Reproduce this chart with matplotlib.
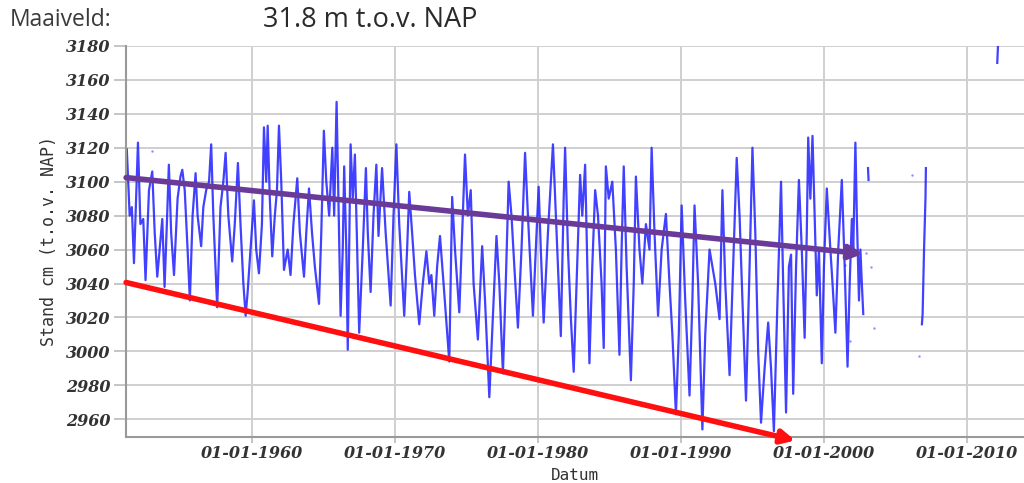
import matplotlib
matplotlib.use("Agg")
import matplotlib.pyplot as plt
import numpy as np

# grondwaterstand (cm t.o.v. NAP)
years = [
    1951.25, 1951.45, 1951.6, 1951.75, 1951.9, 1952.03, 1952.2, 1952.4, 1952.56, 1952.8,
    1953.03, 1953.2, 1953.38, 1953.6, 1953.73, 1953.89, 1954.05, 1954.19, 1954.35, 1954.55,
    1954.8, 1955.0, 1955.13, 1955.3, 1955.5, 1955.66, 1955.85, 1956.06, 1956.2, 1956.45,
    1956.6, 1956.8, 1957.0, 1957.15, 1957.3, 1957.57, 1957.8, 1958.0, 1958.16, 1958.35,
    1958.62, 1958.8, 1959.02, 1959.2, 1959.4, 1959.56, 1959.7, 1959.9, 1960.14, 1960.3,
    1960.49, 1960.7, 1960.84, 1961.0, 1961.1, 1961.25, 1961.42, 1961.6, 1961.75, 1961.89,
    1962.05, 1962.24, 1962.5, 1962.7, 1962.9, 1963.17, 1963.35, 1963.64, 1963.8, 1963.99,
    1964.2, 1964.4, 1964.69, 1964.85, 1965.03, 1965.2, 1965.4, 1965.62, 1965.75, 1965.92,
    1966.05, 1966.2, 1966.35, 1966.45, 1966.6, 1966.7, 1966.9, 1967.05, 1967.2, 1967.5,
    1967.75, 1967.97, 1968.1, 1968.3, 1968.5, 1968.7, 1968.85, 1969.1, 1969.35, 1969.7,
    1969.9, 1970.1, 1970.3, 1970.65, 1970.85, 1971.0, 1971.2, 1971.4, 1971.7, 1971.95,
    1972.2, 1972.4, 1972.55, 1972.75, 1972.95, 1973.15, 1973.4, 1973.8, 1974.0, 1974.2,
    1974.5, 1974.7, 1974.9, 1975.1, 1975.3, 1975.5, 1975.8, 1976.1, 1976.3, 1976.6,
    1976.85, 1977.1, 1977.3, 1977.55, 1977.75, 1977.95, 1978.15, 1978.35, 1978.6, 1978.85,
    1979.1, 1979.3, 1979.65, 1979.85, 1980.05, 1980.2, 1980.4, 1980.7, 1981.05, 1981.3,
    1981.6, 1981.8, 1981.9, 1982.1, 1982.3, 1982.5, 1982.7, 1982.95, 1983.1, 1983.3,
    1983.45, 1983.6, 1983.8, 1984.0, 1984.2, 1984.45, 1984.6, 1984.75, 1984.95, 1985.2,
    1985.45, 1985.7, 1985.85, 1986.0, 1986.2, 1986.5, 1986.7, 1986.85, 1987.1, 1987.3,
    1987.55, 1987.8, 1987.95, 1988.15, 1988.4, 1988.65, 1988.95, 1989.2, 1989.4, 1989.65,
    1989.85, 1990.05, 1990.3, 1990.6, 1990.8, 1990.95, 1991.2, 1991.5, 1991.7, 1992.0,
    1992.2, 1992.4, 1992.7, 1992.9, 1993.1, 1993.4, 1993.65, 1993.9, 1994.1, 1994.3,
    1994.55, 1994.8, 1995.0, 1995.2, 1995.4, 1995.6, 1995.85, 1996.1, 1996.3, 1996.5,
    1996.75, 1997.0, 1997.15, 1997.35, 1997.55, 1997.7, 1997.85, 1998.05, 1998.25, 1998.45,
    1998.65, 1998.8, 1998.9, 1999.05, 1999.2, 1999.35, 1999.5, 1999.65, 1999.85, 2000.0,
    2000.2, 2000.45, 2000.6, 2000.8, 2001.0, 2001.25, 2001.45, 2001.65, 2001.8, 2001.95,
    2002.05, 2002.2, 2002.3, 2002.45, 2002.55, 2002.65, 2002.75,
]
stand = [
    3119, 3080, 3085, 3052, 3090, 3123, 3075, 3078, 3042, 3095,
    3106, 3070, 3044, 3065, 3078, 3038, 3075, 3110, 3070, 3045,
    3090, 3103, 3107, 3095, 3060, 3030, 3080, 3105, 3080, 3062,
    3085, 3095, 3100, 3122, 3080, 3026, 3085, 3100, 3117, 3080,
    3053, 3075, 3111, 3075, 3040, 3021, 3035, 3060, 3089, 3060,
    3046, 3075, 3132, 3100, 3133, 3090, 3056, 3080, 3095, 3133,
    3100, 3048, 3060, 3045, 3075, 3102, 3070, 3044, 3070, 3096,
    3070, 3050, 3028, 3070, 3130, 3100, 3080, 3120, 3080, 3147,
    3090, 3021, 3060, 3109, 3060, 3001, 3122, 3090, 3116, 3011,
    3060, 3108, 3070, 3035, 3080, 3110, 3068, 3108, 3070, 3027,
    3080, 3122, 3075, 3021, 3060, 3094, 3070, 3045, 3016, 3040,
    3059, 3040, 3045, 3021, 3050, 3068, 3040, 2994, 3091, 3060,
    3023, 3070, 3116, 3080, 3095, 3040, 3007, 3062, 3030, 2973,
    3020, 3068, 3040, 2987, 3040, 3100, 3080, 3050, 3014, 3060,
    3117, 3080, 3021, 3060, 3097, 3060, 3017, 3070, 3122, 3070,
    3009, 3090, 3120, 3060, 3020, 2988, 3040, 3104, 3080, 3110,
    3050, 2993, 3050, 3095, 3080, 3040, 3002, 3109, 3090, 3100,
    3060, 2998, 3060, 3109, 3050, 2983, 3040, 3103, 3060, 3040,
    3075, 3060, 3120, 3070, 3021, 3060, 3081, 3040, 3010, 2963,
    3010, 3086, 3030, 2974, 3030, 3086, 3040, 2954, 3010, 3060,
    3050, 3040, 3019, 3095, 3040, 2986, 3050, 3114, 3080, 3030,
    2971, 3050, 3120, 3070, 3000, 2958, 2990, 3017, 2990, 2953,
    3030, 3100, 3040, 2964, 3050, 3057, 2975, 3050, 3101, 3060,
    3008, 3070, 3126, 3090, 3127, 3080, 3033, 3060, 2993, 3050,
    3096, 3060, 3040, 3011, 3060, 3101, 3050, 2991, 3040, 3078,
    3060, 3123, 3080, 3030, 3060, 3040, 3022,
]

# losse stukjes na 2002
seg_2003_years = [2003.08, 2003.12]
seg_2003_stand = [3108, 3101]
seg_2007_years = [2006.85, 2006.9, 2007.0, 2007.05, 2007.1, 2007.13]
seg_2007_stand = [3016, 3022, 3060, 3075, 3090, 3108]
seg_2012_years = [2012.12, 2012.2]
seg_2012_stand = [3170, 3186]

# losse meetpunten
dot_years = [1953.03, 2001.47, 2002.94, 2003.3, 2003.53, 2001.82, 2006.19, 2006.68]
dot_stand = [3118, 3051, 3058, 3050, 3014, 3006, 3104, 2997]

# trendpijlen (begin, eind)
trend_upper = [(1951.2, 3102.4), (2002.75, 3057.5)]
trend_lower = [(1951.2, 3040.6), (1998.0, 2947.5)]

x_ticks = [1960, 1970, 1980, 1990, 2000, 2010]
x_labels = [f"01-01-{y}" for y in x_ticks]
y_ticks = list(range(2960, 3181, 20))

fig = plt.figure(figsize=(10.24, 4.83), dpi=100)
ax = fig.add_axes([0.123, 0.095, 0.877, 0.81])

line_kw = dict(color="#1f1fff", lw=1.6, alpha=0.85)
ax.plot(years, stand, **line_kw)
ax.plot(seg_2003_years, seg_2003_stand, **line_kw)
ax.plot(seg_2007_years, seg_2007_stand, **line_kw)
ax.plot(seg_2012_years, seg_2012_stand, **line_kw)
ax.scatter(dot_years, dot_stand, s=3, color="#6060ff", alpha=0.7, linewidths=0)

ax.annotate("", xy=trend_upper[1], xytext=trend_upper[0],
            arrowprops=dict(arrowstyle="-|>", lw=4, color="#6a3a98",
                            mutation_scale=20, shrinkA=0, shrinkB=0))
ax.annotate("", xy=trend_lower[1], xytext=trend_lower[0],
            arrowprops=dict(arrowstyle="-|>", lw=4, color="#ff0f0f",
                            mutation_scale=20, shrinkA=0, shrinkB=0),
            annotation_clip=False)

ax.set_xlim(1951.19, 2013.99)
ax.set_ylim(2949.5, 3180)
ax.set_xticks(x_ticks)
ax.set_xticklabels(x_labels)
ax.set_yticks(y_ticks)

tick_font = dict(family="DejaVu Serif", weight="bold", style="italic", size=11.5)
for lab in ax.get_xticklabels() + ax.get_yticklabels():
    lab.set(**tick_font, color="#333333")

ax.grid(True, color="#cfcfcf", lw=1.4)
ax.set_axisbelow(True)
ax.tick_params(axis="y", length=9, width=1.2, color="#bbbbbb", pad=2)
ax.tick_params(axis="x", length=4, width=1.2, color="#bbbbbb", pad=2)
for side in ["left", "bottom"]:
    ax.spines[side].set_color("#999999")
    ax.spines[side].set_linewidth(1.5)
ax.spines["top"].set_visible(False)
ax.spines["right"].set_visible(False)

ax.set_xlabel("Datum", family="DejaVu Sans Mono", size=11.5, color="#333333", labelpad=4)
ax.set_ylabel("Stand cm (t.o.v. NAP)", family="DejaVu Sans Mono", size=12,
              color="#333333", labelpad=6)

fig.text(10 / 1024, 1 - 20 / 483, "Maaiveld:", family="Open Sans", size=16.5,
         color="#3a3a3a", va="center", ha="left")
fig.text(263 / 1024, 1 - 20 / 483, "31.8 m t.o.v. NAP", family="Open Sans", size=19.5,
         color="#2a2a2a", va="center", ha="left")

fig.savefig("out.png", dpi=100)
plt.close(fig)
